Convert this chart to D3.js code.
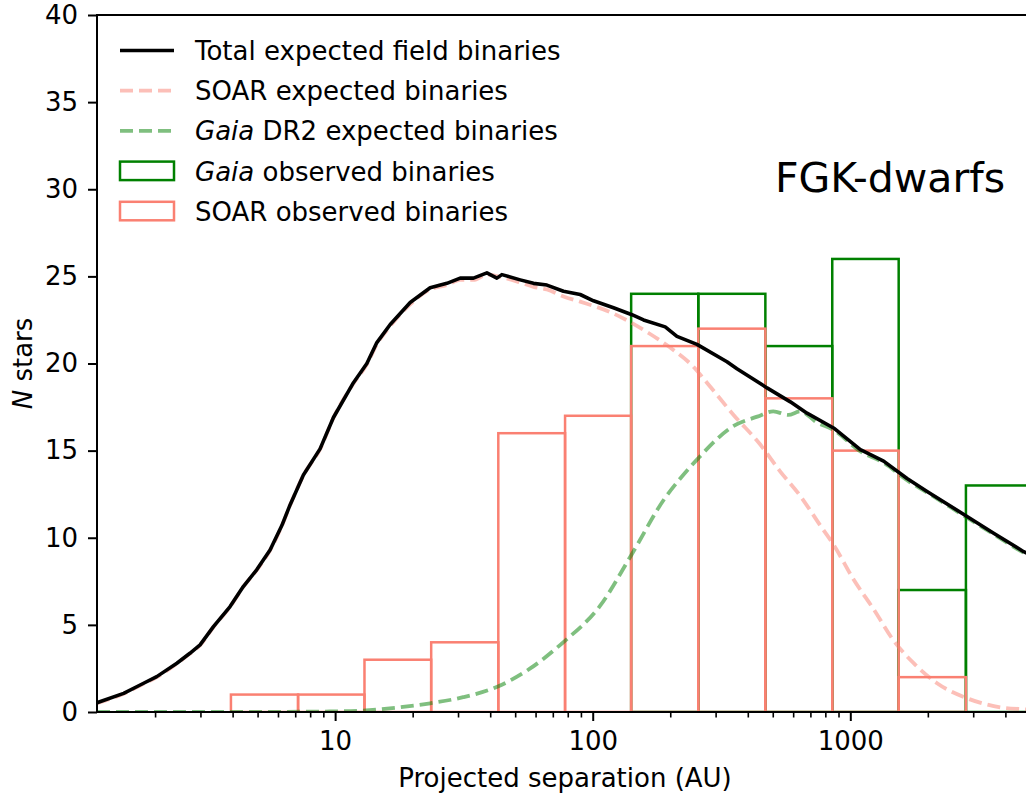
<!DOCTYPE html>
<html>
<head>
<meta charset="utf-8">
<script src="https://cdn.jsdelivr.net/npm/d3@7"></script>
<style>
  body { margin: 0; background: #ffffff; }
  svg { display: block; }
  text { font-family: "DejaVu Sans", sans-serif; fill: #000; }
</style>
</head>
<body>
<svg id="chart" width="1026" height="793"></svg>
<script>
// Histogram bins (projected separation, AU) and observed counts
const binEdges = [3.94, 7.18, 13.0, 23.6, 43.0, 78.1, 141, 257, 468, 851, 1541, 2811, 5120];
const soarObserved = [1, 1, 3, 4, 16, 17, 21, 22, 18, 15, 2, 0];
const gaiaObserved = [0, 0, 0, 0, 0, 0, 24, 24, 21, 26, 7, 13];

// Total expected field binaries
const totalSep = [1.19, 1.51, 1.75, 2.03, 2.43, 2.73, 2.99, 3.37, 3.91, 4.40, 4.96, 5.59, 6.21, 6.69, 7.53, 8.74, 9.85,
  11.78, 13.28, 14.52, 16.36, 19.56, 23.38, 27.16, 30.58, 34.44, 38.83, 42.46, 44.4, 52.3, 58.9, 66.4, 77.0, 89.4,
  100.7, 120.4, 142, 157.5, 191.2, 212.3, 253.9, 332, 363, 475, 585, 679, 861, 1094, 1347, 1661, 1986, 2840, 3602, 4710, 5120];
const totalN = [0.53, 1.07, 1.55, 2.03, 2.8, 3.37, 3.85, 4.9, 6.05, 7.2, 8.16, 9.3, 10.7, 11.9, 13.6, 15.1, 16.9,
  18.9, 20.0, 21.2, 22.24, 23.5, 24.35, 24.6, 24.9, 24.9, 25.2, 24.9, 25.1, 24.8, 24.6, 24.5, 24.15, 23.96,
  23.6, 23.2, 22.8, 22.5, 22.1, 21.56, 21.1, 20.1, 19.7, 18.6, 17.8, 17.15, 16.3, 15.06, 14.4, 13.4, 12.66, 11.22, 10.26, 9.2, 8.95];

// SOAR expected binaries
const soarSep = [1.19, 1.51, 1.75, 2.03, 2.43, 2.73, 2.99, 3.37, 3.91, 4.40, 4.96, 5.59, 6.21, 6.69, 7.53, 8.74, 9.85,
  11.78, 13.28, 14.52, 16.36, 19.56, 23.38, 27.16, 30.58, 34.44, 38.83, 44.4, 52.3, 58.9, 66.4, 77.0, 89.4,
  117, 164.7, 209.1, 242.8, 277.6, 352.2, 447.2, 534.9, 639.4, 765, 861, 1030, 1232, 1473, 1762, 2172, 2840, 3824, 4826, 5120];
const soarN = [0.5, 1.05, 1.52, 2.0, 2.78, 3.35, 3.83, 4.88, 6.03, 7.18, 8.14, 9.28, 10.68, 11.88, 13.58, 15.08, 16.88,
  18.85, 19.95, 21.1, 22.15, 23.4, 24.25, 24.5, 24.8, 24.8, 25.1, 24.95, 24.65, 24.4, 24.25, 23.85, 23.55,
  22.95, 21.75, 20.7, 19.9, 18.9, 17.05, 15.35, 13.8, 12.4, 10.7, 9.6, 7.6, 5.9, 4.1, 2.8, 1.65, 0.79, 0.27, 0.15, 0.12];

// Gaia DR2 expected binaries
const gaiaSep = [1.19, 3, 6, 9.56, 12.84, 17.41, 23.4, 31.4, 42.6, 57.2, 76.8, 106.9, 141.1, 191.2, 218.7, 254.5,
  351.2, 435.5, 502.3, 574.4, 639.4, 744.6, 859, 1094, 1347, 1661, 1986, 2840, 3602, 4710, 5120];
const gaiaN = [0, 0, 0.01, 0.03, 0.08, 0.25, 0.5, 0.85, 1.45, 2.5, 4.0, 6.1, 9.0, 12.3, 13.4, 14.5,
  16.4, 16.95, 17.25, 17.05, 17.25, 16.6, 16.2, 14.95, 14.3, 13.3, 12.6, 11.15, 10.2, 9.15, 8.9];

// Axis settings
const xLimits = [1.19, 5120];
const yLimits = [0, 40];
const xMajorTicks = [10, 100, 1000];
const yTicks = [0, 5, 10, 15, 20, 25, 30, 35, 40];

const plot = { left: 97, top: 15, right: 1033, bottom: 712 };
const colors = { total: "#000000", soar: "#fa8072", gaia: "#008000" };

const svg = d3.select("#chart");
const x = d3.scaleLog().domain(xLimits).range([plot.left, plot.right]);
const y = d3.scaleLinear().domain(yLimits).range([plot.bottom, plot.top]);

svg.append("defs").append("clipPath").attr("id", "plot-clip")
  .append("rect")
  .attr("x", plot.left).attr("y", plot.top - 2)
  .attr("width", plot.right - plot.left).attr("height", plot.bottom - plot.top + 2);

const area = svg.append("g").attr("clip-path", "url(#plot-clip)");

// Unfilled histogram bars
function drawHist(counts, color) {
  const bins = counts.map((c, i) => ({ x0: binEdges[i], x1: binEdges[i + 1], n: c })).filter(d => d.n > 0);
  area.append("g").selectAll("rect").data(bins).join("rect")
    .attr("x", d => x(d.x0))
    .attr("width", d => x(d.x1) - x(d.x0))
    .attr("y", d => y(d.n))
    .attr("height", d => y(0) - y(d.n))
    .attr("fill", "none")
    .attr("stroke", color)
    .attr("stroke-width", 2.5);
}
drawHist(gaiaObserved, colors.gaia);
drawHist(soarObserved, colors.soar);

// Expected curves
const smoothLine = d3.line().x(d => x(d[0])).y(d => y(d[1])).curve(d3.curveMonotoneX);
const rawLine = d3.line().x(d => x(d[0])).y(d => y(d[1]));

area.append("path")
  .attr("d", smoothLine(d3.zip(soarSep, soarN)))
  .attr("fill", "none").attr("stroke", colors.soar).attr("stroke-opacity", 0.5)
  .attr("stroke-width", 3.8).attr("stroke-dasharray", "13,6");

area.append("path")
  .attr("d", smoothLine(d3.zip(gaiaSep, gaiaN)))
  .attr("fill", "none").attr("stroke", colors.gaia).attr("stroke-opacity", 0.5)
  .attr("stroke-width", 3.8).attr("stroke-dasharray", "13,6");

area.append("path")
  .attr("d", rawLine(d3.zip(totalSep, totalN)))
  .attr("fill", "none").attr("stroke", colors.total)
  .attr("stroke-width", 3.6).attr("stroke-linejoin", "round");

// Axes
const minorTicks = [];
for (let d = 0; d <= 3; d++) {
  for (let k = 2; k <= 9; k++) {
    const v = k * Math.pow(10, d);
    if (v > xLimits[0] && v < xLimits[1]) minorTicks.push(v);
  }
}

const xAxisMajor = svg.append("g").attr("transform", `translate(0,${plot.bottom})`)
  .call(d3.axisBottom(x).tickValues(xMajorTicks).tickFormat(d3.format("d")).tickSize(9).tickPadding(10.5));
const xAxisMinor = svg.append("g").attr("transform", `translate(0,${plot.bottom})`)
  .call(d3.axisBottom(x).tickValues(minorTicks).tickFormat("").tickSize(5.5));
const yAxis = svg.append("g").attr("transform", `translate(${plot.left},0)`)
  .call(d3.axisLeft(y).tickValues(yTicks).tickSize(9).tickPadding(10));

[xAxisMajor, xAxisMinor, yAxis].forEach(g => {
  g.select(".domain").remove();
  g.selectAll(".tick line").attr("stroke", "#000").attr("stroke-width", 2);
  g.selectAll(".tick text").attr("font-size", 26).attr("font-family", "DejaVu Sans, sans-serif").attr("fill", "#000");
});
xAxisMinor.selectAll(".tick line").attr("stroke-width", 1.6);

// Spines
const spine = svg.append("g").attr("stroke", "#000").attr("stroke-width", 2).attr("fill", "none");
spine.append("line").attr("x1", plot.left).attr("x2", plot.left).attr("y1", plot.top).attr("y2", plot.bottom + 1);
spine.append("line").attr("x1", plot.left - 1).attr("x2", plot.right).attr("y1", plot.bottom).attr("y2", plot.bottom);
spine.append("line").attr("x1", plot.left - 1).attr("x2", plot.right).attr("y1", plot.top).attr("y2", plot.top);
spine.append("line").attr("x1", plot.right).attr("x2", plot.right).attr("y1", plot.top).attr("y2", plot.bottom);

// Axis labels
svg.append("text")
  .attr("x", (plot.left + plot.right) / 2).attr("y", 787)
  .attr("text-anchor", "middle").attr("font-size", 26)
  .text("Projected separation (AU)");

const yLabel = svg.append("text")
  .attr("transform", `translate(32,${(plot.top + plot.bottom) / 2}) rotate(-90)`)
  .attr("text-anchor", "middle").attr("font-size", 26);
yLabel.append("tspan").attr("font-style", "italic").text("N");
yLabel.append("tspan").text(" stars");

// Panel title
svg.append("text")
  .attr("x", 775).attr("y", 192)
  .attr("font-size", 41)
  .text("FGK-dwarfs");

// Legend
const legend = svg.append("g");
const rowBase = i => 60 + 40.2 * i;
const items = [
  { type: "line", color: colors.total, opacity: 1, dash: null, parts: [["Total expected field binaries", false]] },
  { type: "line", color: colors.soar, opacity: 0.5, dash: "13,6", parts: [["SOAR expected binaries", false]] },
  { type: "line", color: colors.gaia, opacity: 0.5, dash: "13,6", parts: [["Gaia", true], [" DR2 expected binaries", false]] },
  { type: "rect", color: colors.gaia, parts: [["Gaia", true], [" observed binaries", false]] },
  { type: "rect", color: colors.soar, parts: [["SOAR observed binaries", false]] }
];
items.forEach((it, i) => {
  const b = rowBase(i);
  if (it.type === "line") {
    legend.append("line")
      .attr("x1", 120).attr("x2", 174).attr("y1", b - 9.5).attr("y2", b - 9.5)
      .attr("stroke", it.color).attr("stroke-opacity", it.opacity)
      .attr("stroke-width", it.dash ? 3.8 : 3.6)
      .attr("stroke-dasharray", it.dash);
  } else {
    legend.append("rect")
      .attr("x", 120).attr("y", b - 19).attr("width", 54).attr("height", 18.5)
      .attr("fill", "none").attr("stroke", it.color).attr("stroke-width", 2.5);
  }
  const t = legend.append("text").attr("x", 195).attr("y", b).attr("font-size", 26);
  it.parts.forEach(([s, ital]) => {
    const ts = t.append("tspan").text(s);
    if (ital) ts.attr("font-style", "italic");
  });
});
</script>
</body>
</html>
